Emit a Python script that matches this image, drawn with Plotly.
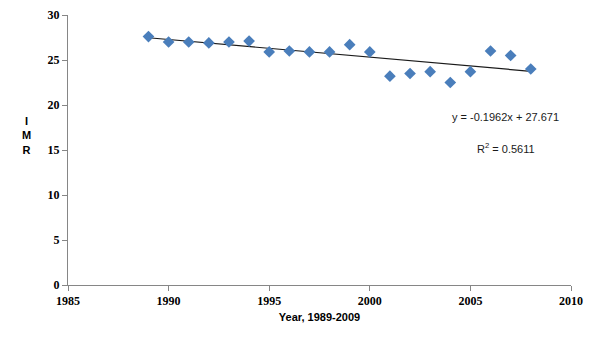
import numpy as np
import plotly.graph_objects as go

years = [1989, 1990, 1991, 1992, 1993, 1994, 1995, 1996, 1997, 1998,
         1999, 2000, 2001, 2002, 2003, 2004, 2005, 2006, 2007, 2008]
imr = [27.6, 27.0, 27.0, 26.9, 27.0, 27.1, 25.9, 26.0, 25.9, 25.9,
       26.7, 25.9, 23.2, 23.5, 23.7, 22.5, 23.7, 26.0, 25.5, 24.0]
slope = -0.1962
intercept = 27.671
r2 = 0.5611
x_ticks = [1985, 1990, 1995, 2000, 2005, 2010]
y_ticks = [0, 5, 10, 15, 20, 25, 30]

idx = np.arange(1, len(years) + 1)
trend = intercept + slope * idx

fig = go.Figure()
fig.add_trace(go.Scatter(x=[years[0], years[-1]], y=[trend[0], trend[-1]],
                         mode="lines", line=dict(color="#1a1a1a", width=1.2),
                         hoverinfo="skip", showlegend=False))
fig.add_trace(go.Scatter(x=years, y=imr, mode="markers",
                         marker=dict(symbol="diamond", size=9, color="#4a7ebb"),
                         showlegend=False))

serif_bold = dict(family="Liberation Serif", size=12, color="#000000")
fig.update_layout(
    width=600, height=355,
    margin=dict(l=60, r=37, t=7, b=78),
    plot_bgcolor="white", paper_bgcolor="white",
    xaxis=dict(range=[1985, 2010], tickvals=x_ticks, ticktext=[f"<b>{v}</b>" for v in x_ticks],
               showgrid=False, zeroline=False, showline=True, linecolor="#868686",
               linewidth=1, ticks="outside", ticklen=5, tickcolor="#868686",
               tickfont=serif_bold, automargin=False,
               title=dict(text="<b>Year, 1989-2009</b>",
                          font=dict(family="Liberation Sans", size=11, color="#000000"),
                          standoff=5)),
    yaxis=dict(range=[0, 30], tickvals=y_ticks, ticktext=[f"<b>{v}</b>" for v in y_ticks],
               showgrid=False, zeroline=False, showline=True, linecolor="#868686",
               linewidth=1, ticks="outside", ticklen=5, tickcolor="#868686",
               tickfont=serif_bold, automargin=False),
    annotations=[
        dict(text="<b>I<br>M<br>R</b>", xref="paper", yref="paper", x=-0.082, y=0.555,
             xanchor="center", yanchor="middle", showarrow=False, align="center",
             font=dict(family="Liberation Sans", size=11, color="#000000")),
        dict(text=f"y = {slope}x + {intercept}", xref="paper", yref="paper",
             x=0.87, y=0.622, xanchor="center", yanchor="middle", showarrow=False,
             font=dict(family="Liberation Sans", size=11, color="#1a1a1a")),
        dict(text=f"R<sup>2</sup> = {r2}", xref="paper", yref="paper",
             x=0.87, y=0.507, xanchor="center", yanchor="middle", showarrow=False,
             font=dict(family="Liberation Sans", size=11, color="#1a1a1a")),
    ],
)
fig.write_html("out.html")
